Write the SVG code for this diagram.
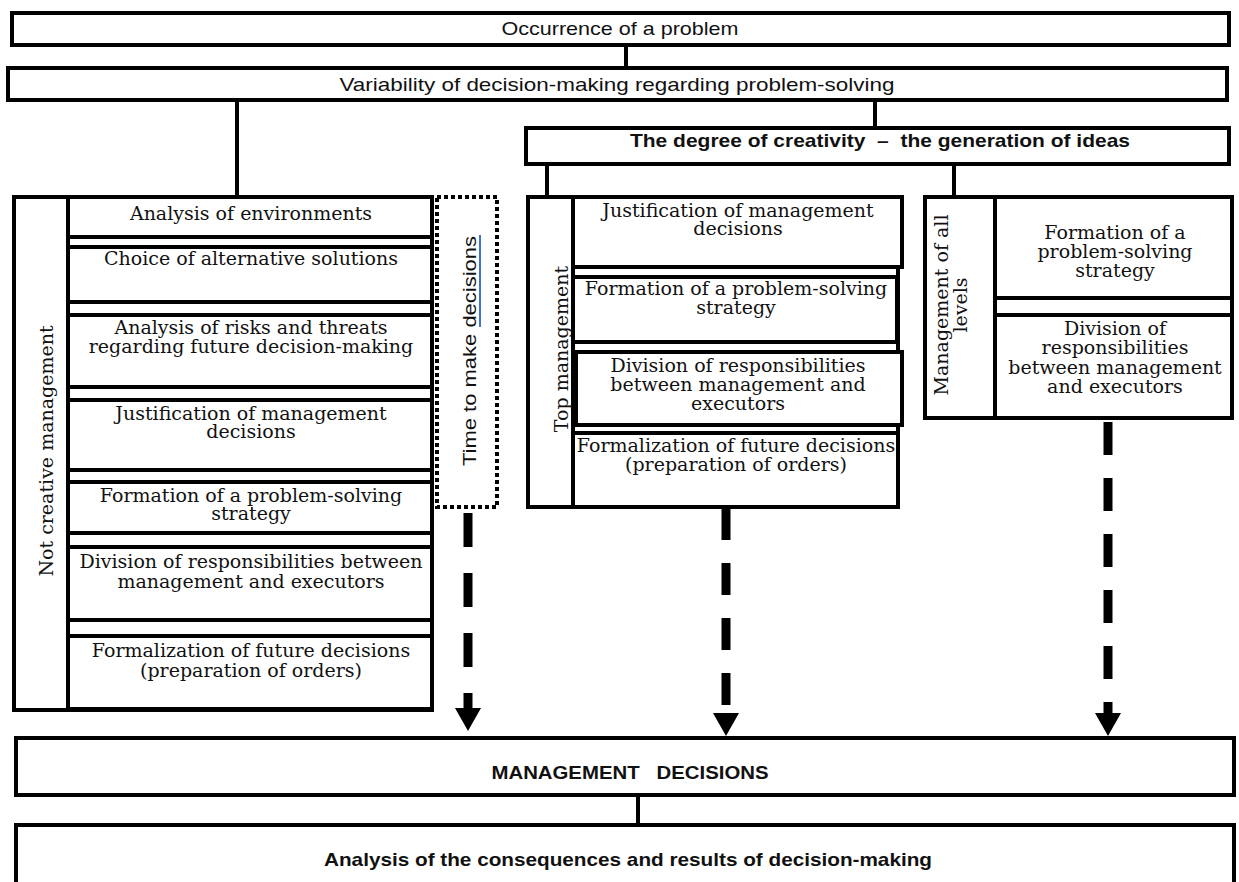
<svg xmlns="http://www.w3.org/2000/svg" width="1239" height="882" viewBox="0 0 1239 882">
<style>
.bx{fill:#fff;stroke:#000;stroke-width:4}
.ln{stroke:#000;stroke-width:4;fill:none}
.dash{stroke:#000;stroke-width:9;fill:none}
.dot{fill:none;stroke:#000;stroke-width:4;stroke-dasharray:4 3}
.s{font-family:"Liberation Sans",Arial,sans-serif;font-size:19px;fill:#111;text-anchor:middle}
.sb{font-family:"Liberation Sans",Arial,sans-serif;font-size:19px;font-weight:bold;fill:#111;text-anchor:middle}
.t{font-family:"DejaVu Serif","Liberation Serif",serif;font-size:19px;fill:#111;text-anchor:middle}
</style>
<defs>
<marker id="ah" markerUnits="userSpaceOnUse" markerWidth="26" markerHeight="26" refX="0" refY="13" orient="auto" viewBox="0 0 26 26">
<path d="M0,0 L23,13 L0,26 z" fill="#000"/>
</marker>
</defs>

<g id="connectors">
<line class="ln" x1="626" y1="45" x2="626" y2="68"/>
<line class="ln" x1="237" y1="100" x2="237" y2="197"/>
<line class="ln" x1="875" y1="100" x2="875" y2="128"/>
<line class="ln" x1="547" y1="164" x2="547" y2="197"/>
<line class="ln" x1="954" y1="164" x2="954" y2="197"/>
<line class="ln" x1="638" y1="795" x2="638" y2="825"/>
<line class="dash" x1="468" y1="513" x2="468" y2="708" stroke-dasharray="34 26" marker-end="url(#ah)"/>
<line class="dash" x1="726" y1="508" x2="726" y2="713" stroke-dasharray="32 23" marker-end="url(#ah)"/>
<line class="dash" x1="1108" y1="422" x2="1108" y2="713" stroke-dasharray="33 23" marker-end="url(#ah)"/>
</g>

<g id="n-occurrence">
<rect class="bx" x="12" y="13" width="1217" height="32"/>
<text class="s" x="620" y="35" textLength="237" lengthAdjust="spacingAndGlyphs">Occurrence of a problem</text>
</g>

<g id="n-variability">
<rect class="bx" x="8" y="68" width="1219" height="32"/>
<text class="s" x="617" y="91" textLength="555" lengthAdjust="spacingAndGlyphs">Variability of decision-making regarding problem-solving</text>
</g>

<g id="n-creativity">
<rect class="bx" x="526" y="128" width="703" height="36"/>
<text class="sb" x="880" y="147" textLength="500" lengthAdjust="spacingAndGlyphs">The degree of creativity&#160; –&#160; the generation of ideas</text>
</g>

<g id="n-not-creative">
<rect class="bx" x="14" y="197" width="418" height="513"/>
<line class="ln" x1="68" y1="197" x2="68" y2="710" stroke-width="5"/>
<text class="t" transform="translate(53,451) rotate(-90)">Not creative management</text>
</g>
<g id="n-l1">
<rect class="bx" x="68" y="197" width="364" height="40"/>
<text class="t" x="251" y="220">Analysis of environments</text>
</g>
<g id="n-l2">
<rect class="bx" x="68" y="247" width="364" height="55"/>
<text class="t" x="251" y="265">Choice of alternative solutions</text>
</g>
<g id="n-l3">
<rect class="bx" x="68" y="315" width="364" height="72"/>
<text class="t" x="251" y="334">Analysis of risks and threats</text>
<text class="t" x="251" y="353">regarding future decision-making</text>
</g>
<g id="n-l4">
<rect class="bx" x="68" y="400" width="364" height="70"/>
<text class="t" x="251" y="420">Justification of management</text>
<text class="t" x="251" y="438">decisions</text>
</g>
<g id="n-l5">
<rect class="bx" x="68" y="482" width="364" height="51"/>
<text class="t" x="251" y="502">Formation of a problem-solving</text>
<text class="t" x="251" y="520">strategy</text>
</g>
<g id="n-l6">
<rect class="bx" x="68" y="547" width="364" height="73"/>
<text class="t" x="251" y="568">Division of responsibilities between</text>
<text class="t" x="251" y="588">management and executors</text>
</g>
<g id="n-l7">
<rect class="bx" x="68" y="636" width="364" height="73"/>
<text class="t" x="251" y="657">Formalization of future decisions</text>
<text class="t" x="251" y="677">(preparation of orders)</text>
</g>

<g id="n-time">
<rect class="dot" x="437" y="197" width="60" height="310"/>
<text class="s" font-size="20" transform="translate(476,351) rotate(-90)" textLength="230" lengthAdjust="spacingAndGlyphs">Time to make decisions</text>
<line x1="480" y1="235" x2="480" y2="327" stroke="#3f73d8" stroke-width="2"/>
</g>

<g id="n-top">
<rect class="bx" x="528" y="197" width="370" height="310"/>
<line class="ln" x1="573" y1="197" x2="573" y2="507"/>
<text class="t" transform="translate(568,349) rotate(-90)">Top management</text>
</g>
<g id="n-m1">
<rect class="bx" x="573" y="197" width="329" height="70"/>
<text class="t" x="738" y="217">Justification of management</text>
<text class="t" x="738" y="235">decisions</text>
</g>
<g id="n-m2">
<rect class="bx" x="573" y="277" width="324" height="65"/>
<text class="t" x="736" y="295">Formation of a problem-solving</text>
<text class="t" x="736" y="314">strategy</text>
</g>
<g id="n-m3">
<rect class="bx" x="576" y="352" width="326" height="73"/>
<text class="t" x="738" y="372">Division of responsibilities</text>
<text class="t" x="738" y="391">between management and</text>
<text class="t" x="738" y="410">executors</text>
</g>
<g id="n-m4">
<rect class="bx" x="573" y="433" width="325" height="74"/>
<text class="t" x="736" y="452">Formalization of future decisions</text>
<text class="t" x="736" y="471">(preparation of orders)</text>
</g>

<g id="n-all">
<rect class="bx" x="925" y="197" width="307" height="221"/>
<line class="ln" x1="995" y1="197" x2="995" y2="418"/>
<text class="t" transform="translate(948,305) rotate(-90)">Management of all</text>
<text class="t" transform="translate(967,305) rotate(-90)">levels</text>
</g>
<g id="n-r1">
<rect class="bx" x="995" y="197" width="237" height="101"/>
<text class="t" x="1115" y="239">Formation of a</text>
<text class="t" x="1115" y="258">problem-solving</text>
<text class="t" x="1115" y="277">strategy</text>
</g>
<g id="n-r2">
<rect class="bx" x="995" y="315" width="237" height="103"/>
<text class="t" x="1115" y="335">Division of</text>
<text class="t" x="1115" y="354">responsibilities</text>
<text class="t" x="1115" y="374">between management</text>
<text class="t" x="1115" y="393">and executors</text>
</g>

<g id="n-decisions">
<rect class="bx" x="16" y="738" width="1218" height="57"/>
<text class="sb" x="630" y="779" textLength="277" lengthAdjust="spacingAndGlyphs">MANAGEMENT&#160;&#160; DECISIONS</text>
</g>

<g id="n-analysis">
<rect class="bx" x="16" y="825" width="1218" height="62"/>
<text class="sb" x="628" y="866" textLength="608" lengthAdjust="spacingAndGlyphs">Analysis of the consequences and results of decision-making</text>
</g>
</svg>
